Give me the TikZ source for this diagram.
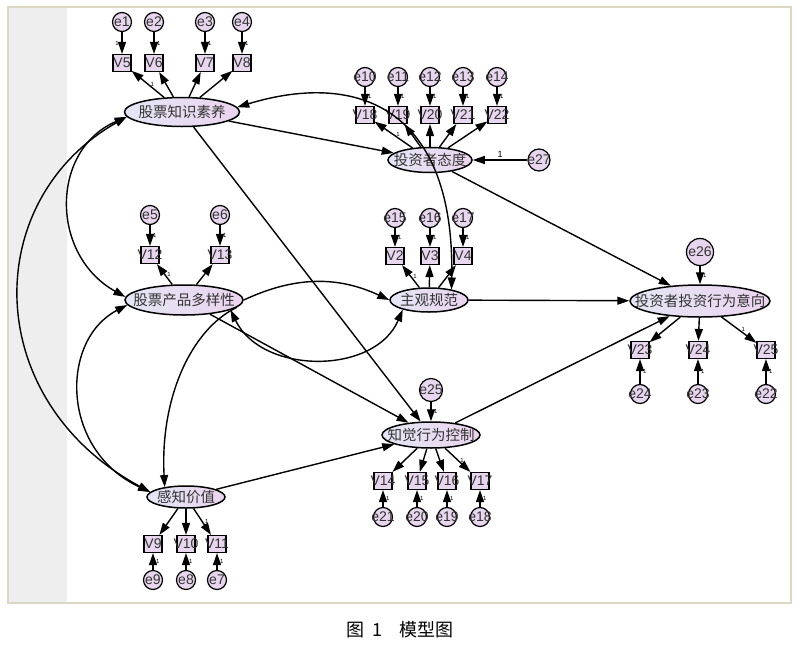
\documentclass[tikz,border=0pt]{standalone}
\usepackage{fontspec}
\setmainfont{Liberation Sans}
\newfontfamily\cjk{Noto Sans CJK SC}
\usepackage{tikz}
\usetikzlibrary{arrows.meta,shapes.geometric}
\definecolor{lavl}{HTML}{E3E6F5}
\definecolor{lavr}{HTML}{EBD4EE}
\definecolor{lav}{HTML}{E8D6EF}
\definecolor{band}{HTML}{EEEEEE}
\definecolor{rim}{HTML}{DDD8C6}
\definecolor{ink}{HTML}{333333}
\tikzset{
  zw/.style={execute at begin node={\hbox to 0pt\bgroup\hss},execute at end node={\hss\egroup}},
  lat/.style={ellipse,draw,line width=1.5pt,left color=lavl,right color=lavr,inner sep=0pt,zw,text=ink,font=\cjk\fontsize{14.5}{15}\selectfont},
  obs/.style={draw,line width=1.2pt,fill=lav,minimum width=18pt,minimum height=17pt,inner sep=0pt,zw,text=ink,font=\fontsize{14}{14}\selectfont},
  err/.style={circle,draw,line width=1.2pt,fill=lav,minimum size=19pt,inner sep=0pt,zw,text=ink,font=\fontsize{14}{14}\selectfont},
  pth/.style={-{Triangle[length=12pt,width=8pt]},line width=1.4pt},
  cov/.style={{Triangle[length=12pt,width=8pt]}-{Triangle[length=12pt,width=8pt]},line width=1.4pt},
  wt/.style={font=\fontsize{6}{6}\selectfont,inner sep=2.5pt}
}

\begin{document}
\begin{tikzpicture}[x=1pt,y=-1pt]
\useasboundingbox (0,0) rectangle (800,645);
\fill[band] (9,8) rectangle (67,602);
\draw[rim,line width=1.6pt] (8,7) rectangle (791,603);

% latent variables
\node[lat,minimum width=115pt,minimum height=29pt] (zs) at (182,112) {股票知识素养};
\node[lat,minimum width=84pt,minimum height=25pt] (td) at (430,160) {投资者态度};
\node[lat,minimum width=118pt,minimum height=30pt] (cp) at (184,300) {股票产品多样性};
\node[lat,minimum width=78pt,minimum height=24pt] (gf) at (429,300) {主观规范};
\node[lat,minimum width=140pt,minimum height=32pt] (yx) at (700,301) {投资者投资行为意向};
\node[lat,minimum width=98pt,minimum height=26pt] (kz) at (431,435) {知觉行为控制};
\node[lat,minimum width=78pt,minimum height=22pt] (jz) at (186,497) {感知价值};

% indicators
\foreach \x/\v/\e/\a in {122/5/1/east,154/6/2/west,205/7/3/west,242/8/4/west}{
  \node[obs] (V\v) at (\x,63) {V\v};
  \node[err] (e\e) at (\x,22) {e\e};
  \draw[pth] (e\e) -- node[wt,anchor=\a]{1} (V\v);
  \draw[pth] (zs) -- (V\v);}
\foreach \x/\v/\e in {365/18/10,398/19/11,430/20/12,463/21/13,497/22/14}{
  \node[obs] (V\v) at (\x,115) {V\v};
  \node[err] (e\e) at (\x,77) {e\e};
  \draw[pth] (e\e) -- node[wt,anchor=west]{1} (V\v);
  \draw[pth] (td) -- (V\v);}
\foreach \x/\v/\e in {150/12/5,220/13/6}{
  \node[obs] (V\v) at (\x,255) {V\v};
  \node[err] (e\e) at (\x,215) {e\e};
  \draw[pth] (e\e) -- node[wt,anchor=west]{1} (V\v);
  \draw[pth] (cp) -- (V\v);}
\foreach \x/\v/\e in {395/2/15,430/3/16,463/4/17}{
  \node[obs] (V\v) at (\x,256) {V\v};
  \node[err] (e\e) at (\x,218) {e\e};
  \draw[pth] (e\e) -- node[wt,anchor=west]{1} (V\v);
  \draw[pth] (gf) -- (V\v);}
\foreach \x/\v/\e in {640/23/24,698/24/23,766/25/22}{
  \node[obs] (V\v) at (\x,350) {V\v};
  \node[err] (e\e) at (\x,394) {e\e};
  \draw[pth] (e\e) -- node[wt,anchor=west]{1} (V\v);
  \draw[pth] (yx) -- (V\v);}
\foreach \x/\v/\e in {383/14/21,417/15/20,447/16/19,480/17/18}{
  \node[obs] (V\v) at (\x,481) {V\v};
  \node[err] (e\e) at (\x,517) {e\e};
  \draw[pth] (e\e) -- node[wt,anchor=west]{1} (V\v);
  \draw[pth] (kz) -- (V\v);}
\foreach \x/\v/\e in {153/9/9,186/10/8,217/11/7}{
  \node[obs] (V\v) at (\x,544) {V\v};
  \node[err] (e\e) at (\x,580) {e\e};
  \draw[pth] (e\e) -- node[wt,anchor=west]{1} (V\v);
  \draw[pth] (jz) -- (V\v);}
\foreach \a/\b in {zs/V5,td/V18,cp/V12,gf/V2,yx/V25,kz/V17,jz/V11}
  \path (\a) -- node[wt,anchor=west]{1} (\b);

% residuals of endogenous factors
\node[err,minimum size=22pt] (e27) at (539,160) {e27};
\node[err,minimum size=27pt] (e26) at (700,252) {e26};
\node[err,minimum size=23pt] (e25) at (431,390) {e25};
\draw[pth] (e27) -- node[above,inner sep=2pt,font=\fontsize{9}{9}\selectfont]{1} (td);
\draw[pth] (e26) -- node[wt,anchor=west]{1} (yx);
\draw[pth] (e25) -- node[wt,anchor=west]{1} (kz);

% paths
\draw[pth] (zs) -- (td);
\draw[pth] (zs) -- (kz);
\draw[pth] (cp) -- (kz);
\draw[pth] (jz) -- (kz);
\draw[pth] (td) -- (yx);
\draw[pth] (gf) -- (yx);
\draw[pth] (kz) -- (yx);
\draw[pth] (cp.east) to[bend left=25] (gf.west);
\draw[pth] (cp.-8) .. controls (190,330) and (160,400) .. (jz.155);
\draw[cov] (cp.-12) .. controls (262,375) and (375,375) .. (gf.200);
\draw[cov] (zs.5) .. controls (360,70) and (455,110) .. (gf.25);
\draw[cov] (zs.185) .. controls (50,150) and (50,255) .. (cp.177);
\draw[cov] (zs.185) .. controls (-20,200) and (-20,400) .. (jz.172);
\draw[cov] (cp.185) .. controls (60,340) and (60,450) .. (jz.172);

\node[font=\cjk\fontsize{18}{18}\selectfont] (cap) at (400,630) {图\hspace{8pt}1\hspace{18pt}模型图};
\end{tikzpicture}
\end{document}
